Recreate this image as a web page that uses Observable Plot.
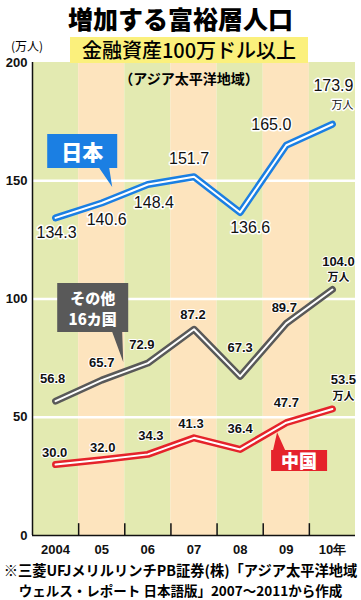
<!DOCTYPE html>
<html>
<head>
<meta charset="utf-8">
<script src="https://cdn.jsdelivr.net/npm/d3@7"></script>
<script src="https://cdn.jsdelivr.net/npm/@observablehq/plot@0.6"></script>
<style>
  body { margin: 0; background: #fff; }
  #wrap { position: relative; width: 361px; height: 600px; overflow: hidden; font-family: "Noto Sans CJK JP", "Liberation Sans", sans-serif; }
  #chart { position: absolute; left: 0; top: 0; }
  .abs { position: absolute; white-space: nowrap; }
  .capline { display: inline-block; white-space: nowrap; }
</style>
</head>
<body>
<div id="wrap">
  <div id="chart"></div>
  <div class="abs" id="title" style="left:0;top:1px;width:361px;text-align:center;font-weight:900;font-size:25px;line-height:34px;color:#000;">増加する富裕層人口</div>
  <div class="abs" id="subtitle" style="left:70px;top:37px;width:238px;height:26px;background:#fbf07c;text-align:center;font-weight:500;font-size:20px;line-height:26px;color:#000;">金融資産100万ドル以上</div>
  <div class="abs" id="unit" style="left:11px;top:38px;font-size:12px;line-height:16px;color:#000;">(万人)</div>
  <div class="abs" id="region" style="left:0;top:69px;width:378px;text-align:center;font-weight:700;font-size:14px;line-height:18px;color:#000;">（アジア太平洋地域）</div>
  <div class="abs" id="caption" style="left:0;top:560px;width:361px;text-align:center;font-weight:700;font-size:15px;line-height:20px;color:#000;">
    <div><span class="capline" id="cap1">※三菱UFJメリルリンチPB証券(株)「アジア太平洋地域</span></div>
    <div><span class="capline" id="cap2">ウェルス・レポート 日本語版」2007～2011から作成</span></div>
  </div>
</div>
<script>
// ---- data ----
const years = [2004, 2005, 2006, 2007, 2008, 2009, 2010];
const xTickLabels = ["2004", "05", "06", "07", "08", "09", "10年"];
const yTickValues = [0, 50, 100, 150, 200];
const gridValues = [50, 100, 150];
const japan = [134.3, 140.6, 148.4, 151.7, 136.6, 165.0, 173.9];
const others = [56.8, 65.7, 72.9, 87.2, 67.3, 89.7, 104.0];
const china = [30.0, 32.0, 34.3, 41.3, 36.4, 47.7, 53.5];
const seriesNames = ["日本", "その他\n16カ国", "中国"];
const unitLabel = "万人";

// ---- styling / layout (kept apart from the data) ----
const colors = { japan: "#1b7fe3", others: "#595959", china: "#e5232b" };
const bandColors = ["#e3eab1", "#fde4be"];
const japanLabelOffsets = [[1, 15], [5, 17], [6, 18], [-5, -18], [10, 15], [-15, -20], [1, -38]];
const othersLabelOffsets = [[-3, -22], [0, -17], [-6, -18], [-1, -14], [0, -29], [-2, -16], [6, -28]];
const chinaLabelOffsets = [[-1, -12], [1, -12], [3, -19], [-3, -14], [0, -21], [0, -20], [11, -29]];
const unitOffsets = { japan: [10, -19], others: [6, -12], china: [11, -13] };
const calloutLayout = [
  { series: "japan", anchor: 1, box: [-54, -68.5, 70, 34], base: [-2, 8], tip: [11, -15.5], side: "bottom", fontSize: 21, lineH: 22 },
  { series: "others", anchor: 1, box: [-44, -96.6, 71, 49], base: [11, 21], tip: [22, -17.6], side: "bottom", fontSize: 15, lineH: 21 },
  { series: "china", anchor: 5, box: [-14.7, 27.8, 56, 21], base: [-12.7, -0.7], tip: [-8.7, 10], side: "top", fontSize: 18, lineH: 20 }
];
const numFont = "'Liberation Sans Narrow', 'Liberation Sans', Arial, sans-serif";

const seriesData = { japan, others, china };
const rows = (key) => years.map((year, i) => ({ year, value: seriesData[key][i], i }));

function lineMarks(key) {
  const d = rows(key);
  return [
    Plot.line(d, { x: "year", y: "value", stroke: colors[key], strokeWidth: 7, strokeLinejoin: "round", strokeLinecap: "round" }),
    Plot.line(d, { x: "year", y: "value", stroke: "white", strokeWidth: 2, strokeLinejoin: "round", strokeLinecap: "round" })
  ];
}

function labelMarks(key, offsets, opts) {
  const d = rows(key);
  const marks = d.map((r, i) => Plot.text([r], {
    x: "year", y: "value", text: (q) => q.value.toFixed(1),
    dx: offsets[i][0], dy: offsets[i][1],
    fontSize: opts.fontSize, fontWeight: opts.fontWeight, fontFamily: numFont,
    fill: "#111", stroke: "white", strokeWidth: opts.halo, paintOrder: "stroke"
  }));
  const last = d[d.length - 1];
  marks.push(Plot.text([last], {
    x: "year", y: "value", text: () => unitLabel,
    dx: unitOffsets[key][0], dy: unitOffsets[key][1],
    fontSize: 11, fontWeight: opts.fontWeight, fontFamily: "'Noto Sans CJK JP', sans-serif",
    fill: "#111", stroke: "white", strokeWidth: opts.halo, paintOrder: "stroke"
  }));
  return marks;
}

function calloutMark(cfg, label) {
  return (index, scales) => {
    const ns = "http://www.w3.org/2000/svg";
    const ax = scales.x(years[cfg.anchor]);
    const ay = scales.y(seriesData[cfg.series][cfg.anchor]);
    const [L, T, W, H] = cfg.box;
    const [b0, b1] = cfg.base;
    const [tx, ty] = cfg.tip;
    const g = document.createElementNS(ns, "g");
    g.setAttribute("transform", `translate(${ax},${ay})`);
    const p = document.createElementNS(ns, "path");
    const dPath = cfg.side === "bottom"
      ? `M${L},${T}H${L + W}V${T + H}H${b1}L${tx},${ty}L${b0},${T + H}H${L}Z`
      : `M${L},${T}H${b0}L${tx},${ty}L${b1},${T}H${L + W}V${T + H}H${L}Z`;
    p.setAttribute("d", dPath);
    p.setAttribute("fill", colors[cfg.series]);
    g.appendChild(p);
    const lines = label.split("\n");
    const cx = L + W / 2, cy = T + H / 2;
    lines.forEach((ln, k) => {
      const t = document.createElementNS(ns, "text");
      t.setAttribute("x", cx);
      t.setAttribute("y", cy + (k - (lines.length - 1) / 2) * cfg.lineH);
      t.setAttribute("text-anchor", "middle");
      t.setAttribute("dominant-baseline", "central");
      t.setAttribute("fill", "white");
      t.setAttribute("font-weight", "900");
      t.setAttribute("font-size", cfg.fontSize);
      t.setAttribute("font-family", "'Noto Sans CJK JP', sans-serif");
      t.textContent = ln;
      g.appendChild(t);
    });
    return g;
  };
}

const xMin = years[0] - 0.5, xMax = years[years.length - 1] + 0.5;
const boundaries = years.slice(0, -1).map((y) => y + 0.5);

const chart = Plot.plot({
  width: 361,
  height: 560,
  marginTop: 62,
  marginBottom: 25,
  marginLeft: 32,
  marginRight: 6,
  style: { background: "transparent", overflow: "visible", fontFamily: numFont },
  x: { domain: [xMin, xMax], axis: null },
  y: { domain: [0, 200], axis: null },
  color: { type: "identity" },
  marks: [
    Plot.rect(years, { x1: (d) => d - 0.5, x2: (d) => d + 0.5, y1: 0, y2: 200, fill: (d, i) => bandColors[i % 2] }),
    Plot.ruleY(gridValues, { stroke: "white", strokeWidth: 2.5 }),
    Plot.ruleX([xMin], { y1: 0, y2: 200, stroke: "#111", strokeWidth: 1.5 }),
    Plot.ruleY([0], { stroke: "#111", strokeWidth: 1.5 }),
    Plot.ruleX(boundaries, { y1: 0, y2: 5, stroke: "#111", strokeWidth: 1.5 }),
    Plot.axisY(yTickValues, { label: null, tickSize: 0, tickPadding: 5, fontSize: 13, fontWeight: "bold", fill: "#111" }),
    Plot.axisX(years, { label: null, tickSize: 0, tickPadding: 9, fontSize: 13, fontWeight: "bold", fill: "#111", tickFormat: (d) => xTickLabels[years.indexOf(d)] }),
    ...lineMarks("japan"),
    ...lineMarks("others"),
    ...lineMarks("china"),
    ...labelMarks("japan", japanLabelOffsets, { fontSize: 16, fontWeight: "normal", halo: 3 }),
    ...labelMarks("others", othersLabelOffsets, { fontSize: 13, fontWeight: "bold", halo: 2 }),
    ...labelMarks("china", chinaLabelOffsets, { fontSize: 13, fontWeight: "bold", halo: 2 }),
    calloutMark(calloutLayout[0], seriesNames[0]),
    calloutMark(calloutLayout[1], seriesNames[1]),
    calloutMark(calloutLayout[2], seriesNames[2])
  ]
});
document.getElementById("chart").appendChild(chart);

// fit the two caption lines to the widths they take in the reference
function fitLine(id, target) {
  const el = document.getElementById(id);
  let fs = 15;
  el.style.fontSize = fs + "px";
  for (let k = 0; k < 20 && el.getBoundingClientRect().width > target; k++) {
    fs -= 0.25;
    el.style.fontSize = fs + "px";
  }
}
fitLine("cap1", 354);
fitLine("cap2", 324);
</script>
</body>
</html>
